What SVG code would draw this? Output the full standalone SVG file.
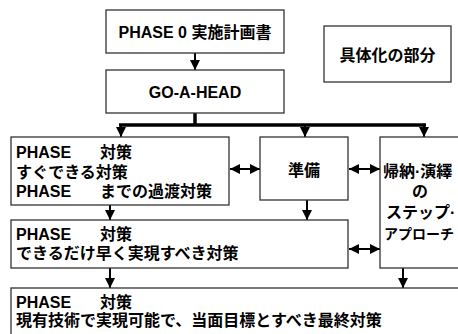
<svg xmlns="http://www.w3.org/2000/svg" width="458" height="334" viewBox="0 0 458 334">
<defs>
<style>
.box{fill:#fff;stroke:#333;stroke-width:1.3}
.t{font-family:"Liberation Sans","Noto Sans CJK JP",sans-serif;font-weight:bold;font-size:16px;fill:#000}
.c{text-anchor:middle}
.thick{stroke:#000;stroke-width:3.5;fill:none}
.ln{stroke:#000;stroke-width:2;fill:none}
</style>
<marker id="ah" viewBox="0 0 10 10" refX="10" refY="5" markerWidth="10" markerHeight="10" markerUnits="userSpaceOnUse" orient="auto-start-reverse">
<path d="M0,0 L10,5 L0,10 Z" fill="#000"/>
</marker>
</defs>
<rect width="458" height="334" fill="#fff"/>
<g id="connectors">
<path class="thick" d="M195,113 V125 M119,125 H426"/>
<path class="ln" d="M121,125 V137" marker-end="url(#ah)"/>
<path class="ln" d="M305,125 V137" marker-end="url(#ah)"/>
<path class="ln" d="M424,125 V137" marker-end="url(#ah)"/>
<path class="ln" d="M195,53 V70" marker-end="url(#ah)"/>
<path class="ln" d="M110,205 V220" marker-end="url(#ah)"/>
<path class="ln" d="M307,200 V220" marker-end="url(#ah)"/>
<path class="ln" d="M110,268 V288" marker-end="url(#ah)"/>
<path class="ln" d="M403,268 V288" marker-end="url(#ah)"/>
<path class="ln" d="M230,169 H260" marker-start="url(#ah)" marker-end="url(#ah)"/>
<path class="ln" d="M349,169 H380" marker-start="url(#ah)" marker-end="url(#ah)"/>
<path class="ln" d="M349,249 H380" marker-start="url(#ah)" marker-end="url(#ah)"/>
</g>
<g id="phase0">
<rect class="box" x="106" y="10" width="178" height="43"/>
<text class="t c" x="195" y="38">PHASE 0 実施計画書</text>
</g>
<g id="goahead">
<rect class="box" x="106" y="70" width="178" height="43"/>
<text class="t c" x="195" y="98">GO-A-HEAD</text>
</g>
<g id="gutaika">
<rect class="box" x="324" y="26" width="127" height="56"/>
<text class="t c" x="387.5" y="61">具体化の部分</text>
</g>
<g id="phase1">
<rect class="box" x="11" y="137" width="218" height="68"/>
<text class="t" x="16" y="158">PHASE<tspan x="100">対策</tspan></text>
<text class="t" x="16" y="178">すぐできる対策</text>
<text class="t" x="16" y="197">PHASE<tspan x="100">までの過渡対策</tspan></text>
</g>
<g id="junbi">
<rect class="box" x="260" y="137" width="88" height="63"/>
<text class="t c" x="304" y="176">準備</text>
</g>
<g id="kino">
<rect class="box" x="380" y="137" width="92" height="131"/>
<text class="t" x="383" y="177">帰納·演繹</text>
<text class="t" x="412" y="197">の</text>
<text class="t" x="386" y="218">ステップ·</text>
<text class="t" x="384" y="239" style="font-size:14px">アプローチ</text>
</g>
<g id="phase2">
<rect class="box" x="11" y="220" width="337" height="48"/>
<text class="t" x="16" y="240">PHASE<tspan x="100">対策</tspan></text>
<text class="t" x="16" y="259">できるだけ早く実現すべき対策</text>
</g>
<g id="phase3">
<rect class="box" x="11" y="288" width="470" height="60"/>
<text class="t" x="16" y="308">PHASE<tspan x="100">対策</tspan></text>
<text class="t" x="16" y="326">現有技術で実現可能で、当面目標とすべき最終対策</text>
</g>
</svg>
